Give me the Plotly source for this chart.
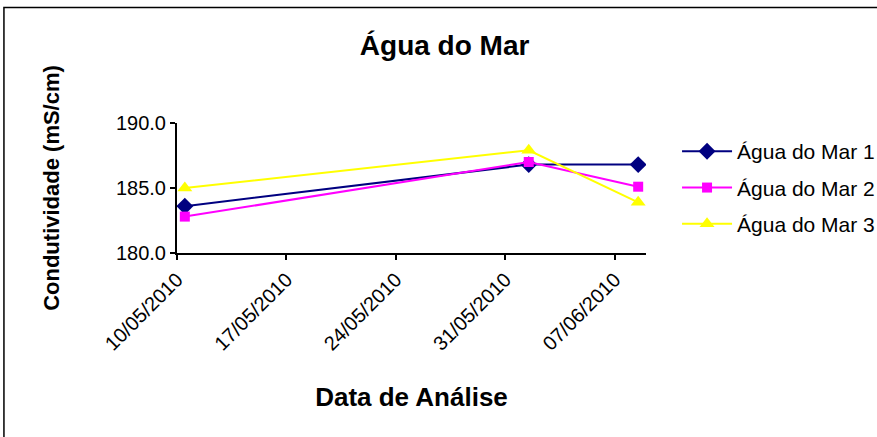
import pandas as pd
import plotly.graph_objects as go

datas = ['2010-05-10', '2010-06-01', '2010-06-08']
agua_mar_1 = [183.6, 186.8, 186.8]
agua_mar_2 = [182.8, 187.0, 185.1]
agua_mar_3 = [185.0, 187.9, 183.9]
tick_datas = ['2010-05-10', '2010-05-17', '2010-05-24', '2010-05-31', '2010-06-07']
tick_labels = ['10/05/2010', '17/05/2010', '24/05/2010', '31/05/2010', '07/06/2010']

# Excel date axis puts each point in the middle of its day
x = pd.to_datetime(datas) + pd.Timedelta(hours=12)

series = [
    ('Água do Mar 1', agua_mar_1, '#000080', 'diamond', 13),
    ('Água do Mar 2', agua_mar_2, '#FF00FF', 'square', 10),
    ('Água do Mar 3', agua_mar_3, '#FFFF00', 'triangle-up', 13),
]

fig = go.Figure()
for name, vals, color, symbol, size in series:
    fig.add_trace(go.Scatter(
        x=x, y=vals, mode='lines+markers', name=name, legendgroup=name,
        line={'color': color, 'width': 2},
        marker={'symbol': symbol, 'size': size, 'color': color},
    ))

font = 'Liberation Sans, Arial, sans-serif'
fig.layout = {
    'width': 877,
    'height': 437,
    'paper_bgcolor': 'white',
    'plot_bgcolor': 'white',
    'margin': {'l': 177, 'r': 231, 't': 123, 'b': 184},
    'font': {'family': font, 'color': 'black', 'size': 20},
    'title': {
        'text': '<b>Água do Mar</b>', 'x': 0.507, 'xanchor': 'center',
        'y': 0.897, 'yanchor': 'middle', 'font': {'size': 28},
    },
    'xaxis': {
        'title': {'text': '<b>Data de Análise</b>', 'font': {'size': 26}, 'standoff': 34},
        'type': 'date',
        'range': ['2010-05-10', '2010-06-09'],
        'tickvals': tick_datas,
        'ticktext': tick_labels,
        'tickangle': -45,
        'showgrid': False, 'zeroline': False,
        'showline': True, 'linecolor': 'black', 'linewidth': 2,
        'ticks': 'outside', 'ticklen': 5, 'tickwidth': 2, 'tickcolor': 'black',
    },
    'yaxis': {
        'title': {'text': '<b>Condutividade (mS/cm)</b>', 'font': {'size': 22}, 'standoff': 50},
        'range': [180, 190],
        'dtick': 5,
        'tickformat': '.1f',
        'showgrid': False, 'zeroline': False,
        'showline': True, 'linecolor': 'black', 'linewidth': 2,
        'ticks': 'outside', 'ticklen': 5, 'tickwidth': 2, 'tickcolor': 'black',
    },
    'legend': {
        'xref': 'container', 'yref': 'container',
        'x': 0.772, 'y': 0.70, 'xanchor': 'left', 'yanchor': 'top',
        'font': {'size': 21}, 'bgcolor': 'rgba(0,0,0,0)',
        'tracegroupgap': 6, 'itemwidth': 50, 'borderwidth': 0,
    },
    'shapes': [{
        'type': 'rect', 'xref': 'paper', 'yref': 'paper',
        'x0': -0.369, 'x1': 1.6, 'y0': -1.5, 'y1': 1.889,
        'line': {'color': 'black', 'width': 1.5},
    }],
}

fig.write_html("out.html", config={'displayModeBar': False},
               post_script="document.body.style.margin = '0';")
